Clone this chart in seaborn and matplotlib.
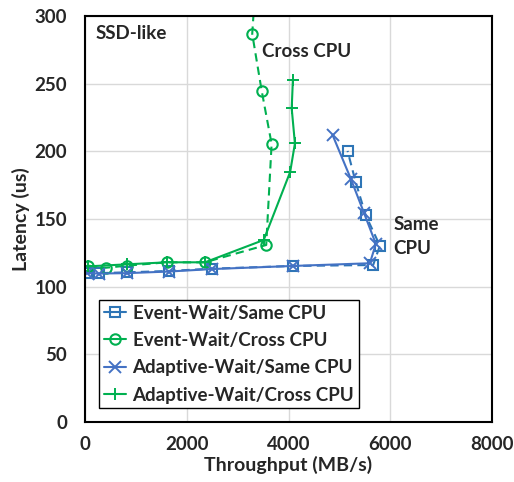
import numpy as np
import pandas as pd
import seaborn as sns
import matplotlib
matplotlib.use("Agg")
import matplotlib.pyplot as plt
from matplotlib.ticker import MultipleLocator
from matplotlib.lines import Line2D

# Throughput (MB/s) and latency (us) for each wait strategy / CPU placement
ew_same_x = [33, 275, 831, 1656, 2489, 4092, 5664, 5796, 5515, 5318, 5161]
ew_same_y = [110.3, 110.0, 110.6, 111.6, 113.3, 115.3, 116.0, 130.3, 153.0, 177.6, 200.3]

ew_cross_x = [65, 413, 819, 1605, 2358, 3562, 3668, 3472, 3287, 3380]
ew_cross_y = [115.5, 114.0, 115.5, 118.0, 118.0, 130.8, 205.5, 244.9, 286.8, 340.0]

aw_same_x = [33, 275, 831, 1656, 2489, 4086, 5599, 5717, 5487, 5226, 4866]
aw_same_y = [110.0, 109.7, 110.0, 111.2, 113.0, 115.3, 117.3, 131.6, 154.2, 179.6, 212.1]

aw_cross_x = [65, 819, 1605, 2358, 3513, 4033, 4126, 4063, 4086]
aw_cross_y = [115.0, 116.5, 118.0, 118.0, 134.5, 184.8, 205.8, 231.7, 252.8]

series_names = ["Event-Wait/Same CPU", "Event-Wait/Cross CPU",
                "Adaptive-Wait/Same CPU", "Adaptive-Wait/Cross CPU"]

frames = []
for name, xs, ys in zip(series_names,
                        [ew_same_x, ew_cross_x, aw_same_x, aw_cross_x],
                        [ew_same_y, ew_cross_y, aw_same_y, aw_cross_y]):
    frames.append(pd.DataFrame({"Throughput": xs, "Latency": ys, "Series": name}))
df = pd.concat(frames, ignore_index=True)

BLUE_SQ = "#2E75B6"
BLUE_X = "#4472C4"
GREEN = "#00B050"

styles = {
    "Event-Wait/Same CPU": dict(color=BLUE_SQ, ls=(0, (4, 2.5)), marker="s", mfc="none", ms=7.5, mew=1.5),
    "Event-Wait/Cross CPU": dict(color=GREEN, ls=(0, (4, 2.5)), marker="o", mfc="none", ms=7.5, mew=1.5),
    "Adaptive-Wait/Same CPU": dict(color=BLUE_X, ls="-", marker="x", mfc="none", ms=8, mew=1.4),
    "Adaptive-Wait/Cross CPU": dict(color=GREEN, ls="-", marker="+", mfc="none", ms=9, mew=1.4),
}

sns.set_style("white")
plt.rcParams["font.family"] = ["Lato", "DejaVu Sans"]
plt.rcParams["font.weight"] = "bold"

FS = 13.5

fig = plt.figure(figsize=(5.14, 4.82), dpi=100)
ax = fig.add_axes([85 / 514, 1 - 422 / 482, 407 / 514, 406 / 482])

for name in series_names:
    st = styles[name]
    sub = df[df["Series"] == name]
    sns.lineplot(data=sub, x="Throughput", y="Latency", ax=ax, sort=False,
                 estimator=None, color=st["color"], linestyle=st["ls"],
                 marker=st["marker"], markersize=st["ms"], markeredgewidth=st["mew"],
                 markerfacecolor=st["mfc"], markeredgecolor=st["color"],
                 linewidth=1.5, legend=False, clip_on=True)

ax.set_xlim(0, 8000)
ax.set_ylim(0, 300)
ax.xaxis.set_major_locator(MultipleLocator(2000))
ax.xaxis.set_minor_locator(MultipleLocator(400))
ax.yaxis.set_major_locator(MultipleLocator(50))
ax.yaxis.set_minor_locator(MultipleLocator(10))

ax.grid(True, which="major", color="#D9D9D9", linewidth=1.0)
ax.set_axisbelow(True)
for sp in ax.spines.values():
    sp.set_visible(True)
    sp.set_color("black")
    sp.set_linewidth(1.5)

ax.tick_params(axis="both", which="major", direction="out", length=5, width=1.2,
               color="black", labelsize=13.5)
ax.tick_params(axis="both", which="minor", direction="in", length=4, width=1.0, color="black")
ax.tick_params(axis="y", which="major", pad=8)
ax.tick_params(axis="x", which="major", pad=5)
ax.tick_params(axis="both", which="both", top=False, right=False)
for lbl in ax.get_xticklabels() + ax.get_yticklabels():
    lbl.set_fontweight("bold")

ax.set_xlabel("Throughput (MB/s)", fontsize=14, fontweight="bold", labelpad=2)
ax.set_ylabel("Latency (us)", fontsize=14, fontweight="bold", labelpad=3)

ax.text(0.027, 0.958, "SSD-like", transform=ax.transAxes, fontsize=FS,
        fontweight="bold", ha="left", va="center")
ax.text(0.435, 0.913, "Cross CPU", transform=ax.transAxes, fontsize=FS,
        fontweight="bold", ha="left", va="center")
ax.text(0.757, 0.457, "Same\nCPU", transform=ax.transAxes, fontsize=FS,
        fontweight="bold", ha="left", va="center", linespacing=1.55)

handles = []
for name in series_names:
    st = styles[name]
    handles.append(Line2D([], [], color=st["color"], linestyle="-", marker=st["marker"],
                          markersize=st["ms"], markeredgewidth=st["mew"],
                          markerfacecolor=st["mfc"], markeredgecolor=st["color"], linewidth=1.5))
leg = ax.legend(handles, series_names, loc="lower left", bbox_to_anchor=(0.034, 0.034),
                frameon=True, fancybox=False, edgecolor="black", framealpha=1,
                prop={"weight": "bold", "size": FS}, handlelength=1.2,
                handletextpad=0.35, labelspacing=0.55, borderpad=0.25, borderaxespad=0)
leg.get_frame().set_linewidth(1.0)

fig.savefig("out.png", dpi=100)
